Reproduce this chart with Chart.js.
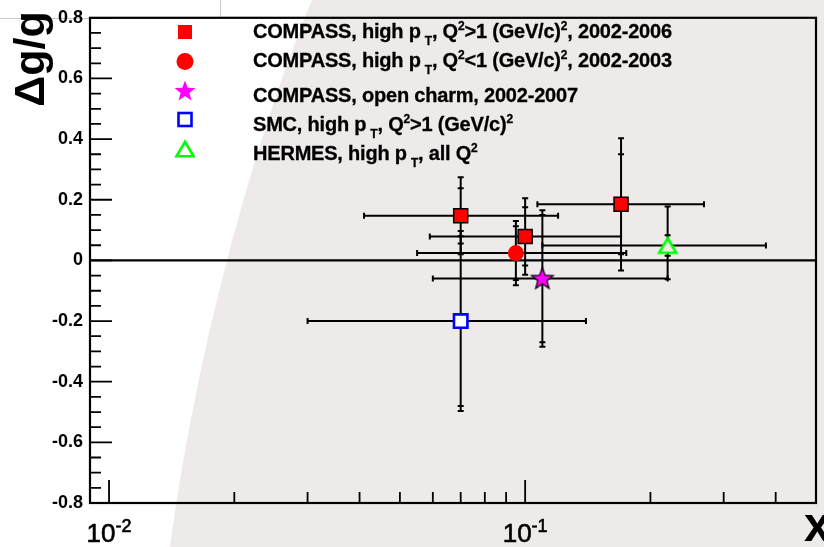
<!DOCTYPE html>
<html>
<head>
<meta charset="utf-8">
<script src="https://cdn.jsdelivr.net/npm/chart.js@4.4.0/dist/chart.umd.min.js"></script>
<style>
html, body { margin: 0; padding: 0; background: #fff; }
#wrap { position: relative; width: 824px; height: 547px; overflow: hidden;
        font-family: "Liberation Sans", Arial, Helvetica, sans-serif; }
#c { position: absolute; left: 0; top: 0; }
.lab { position: absolute; white-space: nowrap; font-weight: bold; color: #000; pointer-events: none; }
.leg { left: 253px; font-size: 20px; line-height: 20px; letter-spacing: -0.2px; -webkit-text-stroke: 0.3px #000; }
.sub { font-size: 12px; position: relative; top: 7px; margin-left: 4px; }
.sup { font-size: 12px; position: relative; top: -8px; }
#ytitle { left: -36px; top: 38px; width: 130px; text-align: center; font-size: 43px; line-height: 42px;
          transform: rotate(-90deg); }
#xtitle { left: 804px; top: 501px; font-size: 48px; line-height: 48px; }
.xl { top: 520px; font-size: 26px; line-height: 26px; font-weight: normal; transform: translateX(-50%);
      -webkit-text-stroke: 0.6px #000; }
.xl span { font-size: 18px; position: relative; top: -10px; }
</style>
</head>
<body>
<div id="wrap">
  <canvas id="c" width="824" height="547"></canvas>
  <div class="lab" id="ytitle">Δg/g</div>
  <div class="lab" id="xtitle">x</div>
  <div class="lab leg" style="top:21px">COMPASS, high p<span class="sub">T</span>, Q<span class="sup">2</span>&gt;1 (GeV/c)<span class="sup">2</span>, 2002-2006</div>
  <div class="lab leg" style="top:50px">COMPASS, high p<span class="sub">T</span>, Q<span class="sup">2</span>&lt;1 (GeV/c)<span class="sup">2</span>, 2002-2003</div>
  <div class="lab leg" style="top:85px">COMPASS, open charm, 2002-2007</div>
  <div class="lab leg" style="top:114px">SMC, high p<span class="sub">T</span>, Q<span class="sup">2</span>&gt;1 (GeV/c)<span class="sup">2</span></div>
  <div class="lab leg" style="top:143px">HERMES, high p<span class="sub">T</span>, all Q<span class="sup">2</span></div>
</div>
<script>
// axis ticks
const X_TICKS = [0.01, 0.02, 0.03, 0.04, 0.05, 0.06, 0.07, 0.08, 0.09, 0.1, 0.2, 0.3, 0.4];
const X_MAJOR = [0.01, 0.1];
const X_LABEL_BASE = ['10', '10'];
const X_LABEL_EXP = ['-2', '-1'];

// COMPASS, high pT, Q2>1, 2002-2006
const CH_X = [0.07, 0.10, 0.17];
const CH_Y = [0.147, 0.079, 0.185];
const CH_STAT = [0.091, 0.096, 0.165];
const CH_TOT_UP = [0.127, 0.126, 0.218];
const CH_TOT_DN = [0.127, 0.126, 0.218];
const CH_XLO = [0.041, 0.059, 0.107];
const CH_XHI = [0.120, 0.170, 0.269];

// COMPASS, high pT, Q2<1, 2002-2003
const CL_X = [0.095];
const CL_Y = [0.024];
const CL_STAT = [0.089];
const CL_TOT_UP = [0.106];
const CL_TOT_DN = [0.106];
const CL_XLO = [0.055];
const CL_XHI = [0.175];

// COMPASS, open charm, 2002-2007
const OC_X = [0.11];
const OC_Y = [-0.06];
const OC_STAT = [0.21];
const OC_TOT_UP = [0.225];
const OC_TOT_DN = [0.225];
const OC_XLO = [0.060];
const OC_XHI = [0.220];

// SMC, high pT
const SMC_X = [0.07];
const SMC_Y = [-0.20];
const SMC_STAT = [0.28];
const SMC_TOT_UP = [0.297];
const SMC_TOT_DN = [0.297];
const SMC_XLO = [0.030];
const SMC_XHI = [0.140];

// HERMES, high pT, all Q2
const HE_X = [0.22];
const HE_Y = [0.049];
const HE_STAT = [0.034];
const HE_TOT_UP = [0.129];
const HE_TOT_DN = [0.111];
const HE_XLO = [0.110];
const HE_XHI = [0.379];

const BG = 'rgb(239,234,234)';
const FONT = '"Liberation Sans", Arial, Helvetica, sans-serif';

function series(x, y, stat, up, dn, xlo, xhi) {
  return { x, y, stat, up, dn, xlo, xhi };
}
const SERIES = [
  series(CH_X, CH_Y, CH_STAT, CH_TOT_UP, CH_TOT_DN, CH_XLO, CH_XHI),
  series(CL_X, CL_Y, CL_STAT, CL_TOT_UP, CL_TOT_DN, CL_XLO, CL_XHI),
  series(OC_X, OC_Y, OC_STAT, OC_TOT_UP, OC_TOT_DN, OC_XLO, OC_XHI),
  series(SMC_X, SMC_Y, SMC_STAT, SMC_TOT_UP, SMC_TOT_DN, SMC_XLO, SMC_XHI),
  series(HE_X, HE_Y, HE_STAT, HE_TOT_UP, HE_TOT_DN, HE_XLO, HE_XHI)
];

// x tick labels as html (for the superscript exponent)
const wrap = document.getElementById('wrap');
const xLabelEls = X_MAJOR.map((v, i) => {
  const el = document.createElement('div');
  el.className = 'lab xl';
  el.innerHTML = X_LABEL_BASE[i] + '<span>' + X_LABEL_EXP[i] + '</span>';
  wrap.appendChild(el);
  return el;
});

function starPath(ctx, cx, cy, ro, ri) {
  ctx.beginPath();
  for (let k = 0; k < 10; k++) {
    const r = k % 2 ? ri : ro;
    const a = -Math.PI / 2 + k * Math.PI / 5;
    const px = cx + r * Math.cos(a), py = cy + r * Math.sin(a);
    k ? ctx.lineTo(px, py) : ctx.moveTo(px, py);
  }
  ctx.closePath();
}
function triPath(ctx, cx, cy, w, h) {
  ctx.beginPath();
  ctx.moveTo(cx, cy - h / 2);
  ctx.lineTo(cx + w / 2, cy + h / 2);
  ctx.lineTo(cx - w / 2, cy + h / 2);
  ctx.closePath();
}
function makeImg(size, fn) {
  const cv = document.createElement('canvas');
  cv.width = size; cv.height = size;
  fn(cv.getContext('2d'), size / 2);
  return cv;
}
const starImg = makeImg(28, (g, c) => {
  starPath(g, c, c + 0.5, 11.5, 4.8);
  g.fillStyle = '#ff00ff'; g.fill();
  g.lineWidth = 1.2; g.strokeStyle = '#000'; g.stroke();
});
const triImg = makeImg(24, (g, c) => {
  triPath(g, c, c, 17, 14.5);
  g.fillStyle = BG; g.fill();
  g.lineWidth = 2.6; g.strokeStyle = '#00ff00'; g.stroke();
});

function pts(x, y) { return x.map((v, i) => ({ x: v, y: y[i] })); }

const decor = {
  id: 'decor',
  beforeDraw(chart) {
    const ctx = chart.ctx;
    ctx.save();
    ctx.fillStyle = '#fff';
    ctx.fillRect(0, 0, chart.width, chart.height);
    ctx.fillStyle = BG;
    ctx.beginPath();
    ctx.moveTo(312, 0);
    ctx.bezierCurveTo(250, 150, 195, 360, 170, 547);
    ctx.lineTo(chart.width, chart.height);
    ctx.lineTo(chart.width, 0);
    ctx.closePath();
    ctx.fill();
    ctx.strokeStyle = '#c8c8c8'; ctx.lineWidth = 1;
    ctx.beginPath(); ctx.moveTo(0, 18.5); ctx.lineTo(220.5, 18.5); ctx.lineTo(220.5, 0); ctx.stroke();
    ctx.restore();
  },
  beforeDatasetsDraw(chart) {
    const { ctx, chartArea: ca } = chart;
    const sx = chart.scales.x, sy = chart.scales.y;
    ctx.save();
    ctx.strokeStyle = '#000';
    // zero line
    ctx.lineWidth = 2.2;
    const y0 = sy.getPixelForValue(0);
    ctx.beginPath(); ctx.moveTo(ca.left, y0); ctx.lineTo(ca.right, y0); ctx.stroke();
    // error bars: outer caps = total, inner marks = stat
    const seg = (a, b, c, d) => { ctx.moveTo(a, b); ctx.lineTo(c, d); };
    SERIES.forEach(s => {
      s.x.forEach((xv, i) => {
        const px = sx.getPixelForValue(xv), py = sy.getPixelForValue(s.y[i]);
        const xl = sx.getPixelForValue(s.xlo[i]), xh = sx.getPixelForValue(s.xhi[i]);
        const yt = sy.getPixelForValue(s.y[i] + s.up[i]), yb = sy.getPixelForValue(s.y[i] - s.dn[i]);
        const st = sy.getPixelForValue(s.y[i] + s.stat[i]), sb = sy.getPixelForValue(s.y[i] - s.stat[i]);
        ctx.lineWidth = 2;
        ctx.beginPath();
        seg(xl, py, xh, py);
        seg(px, yt, px, yb);
        ctx.stroke();
        ctx.beginPath();
        seg(xl, py - 3, xl, py + 3);
        seg(xh, py - 3, xh, py + 3);
        seg(px - 3, yt, px + 3, yt);
        seg(px - 3, yb, px + 3, yb);
        seg(px - 3, st, px + 3, st);
        seg(px - 3, sb, px + 3, sb);
        ctx.stroke();
      });
    });
    ctx.restore();
  },
  afterDraw(chart) {
    const { ctx, chartArea: ca } = chart;
    const sx = chart.scales.x, sy = chart.scales.y;
    ctx.save();
    ctx.strokeStyle = '#000';
    ctx.lineWidth = 2.2;
    ctx.strokeRect(ca.left, ca.top, ca.right - ca.left, ca.bottom - ca.top);
    ctx.lineWidth = 1.8;
    ctx.beginPath();
    sy.ticks.forEach(t => {
      const p = sy.getPixelForValue(t.value);
      const major = Math.abs(Math.round(t.value / 0.2) * 0.2 - t.value) < 1e-6;
      ctx.moveTo(ca.left, p); ctx.lineTo(ca.left + (major ? 22 : 11), p);
    });
    X_TICKS.forEach(v => {
      const p = sx.getPixelForValue(v);
      const major = X_MAJOR.includes(v);
      ctx.moveTo(p, ca.bottom); ctx.lineTo(p, ca.bottom - (major ? 23 : 11));
    });
    ctx.stroke();

    X_MAJOR.forEach((v, i) => { xLabelEls[i].style.left = sx.getPixelForValue(v) + 'px'; });

    // legend markers
    const lx = 185;
    ctx.fillStyle = '#ff0000';
    ctx.fillRect(lx - 7, 32 - 7, 14, 14);
    ctx.beginPath(); ctx.arc(lx, 61.5, 8.5, 0, Math.PI * 2); ctx.fill();
    starPath(ctx, lx, 91.5, 11, 4.6);
    ctx.fillStyle = '#ff00ff'; ctx.fill();
    ctx.fillStyle = '#fff';
    ctx.fillRect(lx - 6.5, 119.5 - 6.5, 13, 13);
    ctx.strokeStyle = '#0000ff'; ctx.lineWidth = 2.6;
    ctx.strokeRect(lx - 6.5, 119.5 - 6.5, 13, 13);
    triPath(ctx, lx, 149, 17, 14.5);
    ctx.strokeStyle = '#00ff00'; ctx.stroke();
    ctx.restore();
  }
};

new Chart(document.getElementById('c'), {
  type: 'scatter',
  data: {
    datasets: [
      { data: pts(CH_X, CH_Y), pointStyle: 'rect', pointRadius: 9.9,
        backgroundColor: '#ff0000', borderColor: '#000', borderWidth: 1.5 },
      { data: pts(CL_X, CL_Y), pointStyle: 'circle', pointRadius: 8,
        backgroundColor: '#ff0000', borderColor: '#ff0000', borderWidth: 0 },
      { data: pts(OC_X, OC_Y), pointStyle: starImg },
      { data: pts(SMC_X, SMC_Y), pointStyle: 'rect', pointRadius: 9.5,
        backgroundColor: '#fff', borderColor: '#0000ff', borderWidth: 2.6 },
      { data: pts(HE_X, HE_Y), pointStyle: triImg }
    ]
  },
  options: {
    responsive: false,
    animation: false,
    events: [],
    devicePixelRatio: 1,
    layout: { autoPadding: false, padding: { top: 12, right: 8, bottom: 0, left: 0 } },
    plugins: { legend: { display: false }, tooltip: { enabled: false } },
    scales: {
      x: {
        type: 'logarithmic',
        min: 0.009,
        max: 0.5,
        afterBuildTicks: s => { s.ticks = X_TICKS.map(v => ({ value: v })); },
        afterFit: s => { s.height = 44; },
        grid: { display: false, drawTicks: false },
        border: { display: false },
        ticks: { autoSkip: false, maxRotation: 0, display: false }
      },
      y: {
        min: -0.8,
        max: 0.8,
        afterFit: s => { s.width = 90; },
        grid: { display: false, drawTicks: false },
        border: { display: false },
        ticks: {
          stepSize: 0.05, autoSkip: false, padding: 7, color: '#000',
          font: { family: FONT, size: 18, weight: 'bold' },
          callback: v => {
            if (Math.abs(Math.round(v / 0.2) * 0.2 - v) > 1e-6) return '';
            const r = Math.round(v * 10) / 10;
            return r === 0 ? '0' : r.toFixed(1);
          }
        }
      }
    }
  },
  plugins: [decor]
});
</script>
</body>
</html>
